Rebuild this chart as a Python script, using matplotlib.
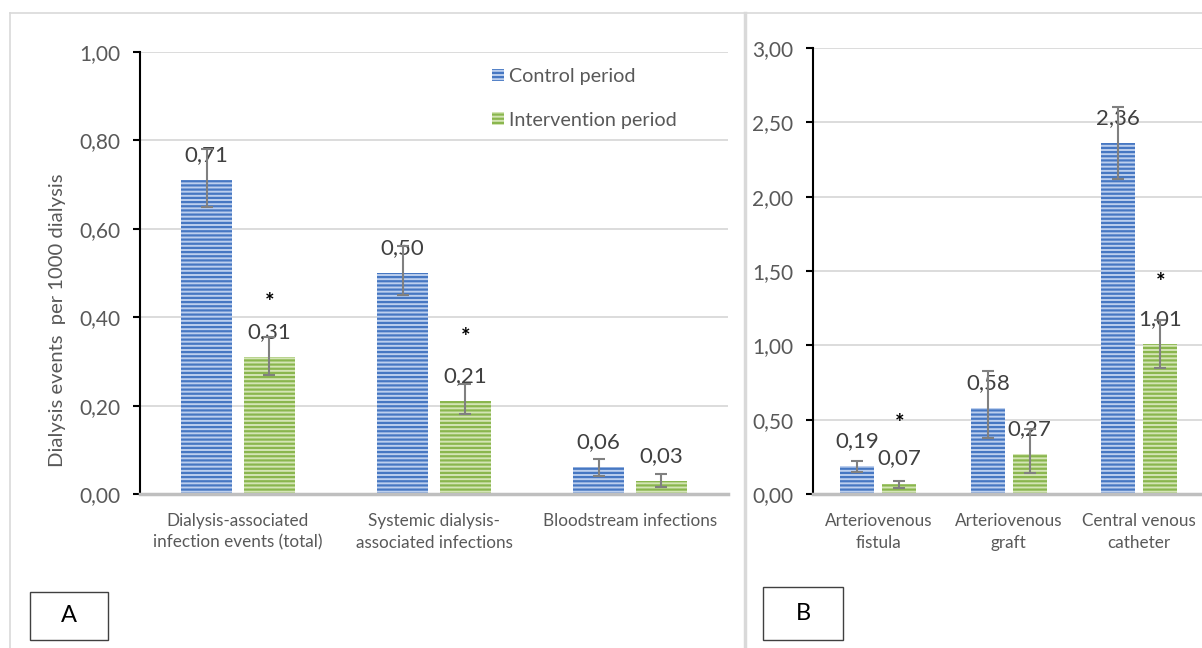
import matplotlib
matplotlib.use('Agg')
import matplotlib.pyplot as plt
from matplotlib.patches import Patch, Rectangle
from matplotlib.lines import Line2D
from matplotlib.ticker import FuncFormatter
import numpy as np

# ---------------- data ----------------
cats_a = ["Dialysis-associated\ninfection events (total)",
          "Systemic dialysis-\nassociated infections",
          "Bloodstream infections"]
ctrl_a = [0.71, 0.50, 0.06]
ctrl_a_lo = [0.65, 0.45, 0.04]
ctrl_a_hi = [0.78, 0.56, 0.08]
intv_a = [0.31, 0.21, 0.03]
intv_a_lo = [0.27, 0.18, 0.016]
intv_a_hi = [0.355, 0.25, 0.045]
star_a_idx = [0, 1]
star_a_y = [0.446, 0.367]

cats_b = ["Arteriovenous\nfistula", "Arteriovenous\ngraft", "Central venous\ncatheter"]
ctrl_b = [0.19, 0.58, 2.36]
ctrl_b_lo = [0.145, 0.375, 2.12]
ctrl_b_hi = [0.225, 0.83, 2.60]
intv_b = [0.07, 0.27, 1.01]
intv_b_lo = [0.04, 0.14, 0.85]
intv_b_hi = [0.09, 0.44, 1.17]
star_b_idx = [0, 2]
star_b_y = [0.51, 1.46]

series_labels = ["Control period", "Intervention period"]
ylabel = "Dialysis events  per 1000 dialysis"

# ---------------- style ----------------
plt.rcParams['font.family'] = ['Lato', 'DejaVu Sans']
plt.rcParams['hatch.linewidth'] = 1.6

BLUE_FACE, BLUE_HATCH = '#bccfee', '#4677c2'
GREEN_FACE, GREEN_HATCH = '#d4e5b5', '#8ab64e'
TXT = '#595959'
LBL = '#404040'

W, H = 1202, 648
fig = plt.figure(figsize=(W / 100, H / 100), dpi=100)
fig.patch.set_facecolor('white')


def fx(px):
    return px / W


def fy(py):
    return 1 - py / H


axA = fig.add_axes([fx(140), fy(494), (728 - 140) / W, (494 - 52) / H])
axB = fig.add_axes([fx(813), fy(494), (1204.5 - 813) / W, (494 - 48) / H])

comma_fmt = FuncFormatter(lambda v, p: f"{v:.2f}".replace('.', ','))


def draw_panel(ax, cats, ctrl, ctrl_lo, ctrl_hi, intv, intv_lo, intv_hi,
               ymax, step, star_idx, star_y):
    x = np.arange(len(cats))
    off, w = 0.16, 0.26
    groups = [(ctrl, ctrl_lo, ctrl_hi, -1, BLUE_FACE, BLUE_HATCH),
              (intv, intv_lo, intv_hi, 1, GREEN_FACE, GREEN_HATCH)]
    for vals, lo, hi, sign, fc, hc in groups:
        vals = np.array(vals)
        xs = x + sign * off
        ax.bar(xs, vals, w, facecolor=fc, edgecolor=hc, hatch='----',
               linewidth=0, zorder=2)
        err = [vals - np.array(lo), np.array(hi) - vals]
        for xi, v in zip(xs, vals):
            ax.annotate(f"{v:.2f}".replace('.', ','), (xi, v), xytext=(0, 18),
                        textcoords='offset points', ha='center', va='center',
                        fontsize=16, color=LBL, zorder=3)
        ax.errorbar(xs, vals, yerr=err, fmt='none', ecolor='#808080',
                    elinewidth=1.5, capsize=4, capthick=1.5, zorder=4)
    for i, sy in zip(star_idx, star_y):
        ax.annotate('*', (x[i] + off, sy), xytext=(0, -8.5),
                    textcoords='offset points', ha='center', va='baseline',
                    fontsize=16, fontweight='bold', color='black', zorder=5)

    ax.set_xlim(-0.5, len(cats) - 0.5)
    ax.set_ylim(0, ymax)
    ax.set_yticks(np.arange(0, ymax + 1e-9, step))
    ax.yaxis.set_major_formatter(comma_fmt)
    ax.set_xticks(x)
    ax.set_xticklabels(cats, linespacing=1.4)
    ax.tick_params(axis='x', length=0, pad=14, labelsize=12.3, labelcolor=TXT)
    ax.tick_params(axis='y', length=5, width=1.5, color='black', direction='out',
                   pad=9, labelsize=15, labelcolor=TXT)
    ax.yaxis.grid(True, color='#d9d9d9', lw=1.3)
    ax.set_axisbelow(True)
    ax.spines['top'].set_visible(False)
    ax.spines['right'].set_visible(False)
    ax.spines['left'].set_color('black')
    ax.spines['left'].set_linewidth(1.5)
    ax.spines['bottom'].set_color('#bfbfbf')
    ax.spines['bottom'].set_linewidth(2.5)
    ax.patch.set_alpha(0)


draw_panel(axA, cats_a, ctrl_a, ctrl_a_lo, ctrl_a_hi, intv_a, intv_a_lo, intv_a_hi,
           1.0, 0.2, star_a_idx, star_a_y)
draw_panel(axB, cats_b, ctrl_b, ctrl_b_lo, ctrl_b_hi, intv_b, intv_b_lo, intv_b_hi,
           3.0, 0.5, star_b_idx, star_b_y)

# legend
handles = [Patch(facecolor=BLUE_FACE, edgecolor=BLUE_HATCH, hatch='----', lw=0),
           Patch(facecolor=GREEN_FACE, edgecolor=GREEN_HATCH, hatch='----', lw=0)]
axA.legend(handles, series_labels, loc='upper left',
           bbox_to_anchor=(fx(492), fy(68)), bbox_transform=fig.transFigure,
           frameon=False, fontsize=14.2, handlelength=0.6, handleheight=0.6,
           handletextpad=0.25, labelspacing=1.35, borderpad=0, borderaxespad=0,
           labelcolor=TXT)

# y label
fig.text(fx(57), fy(320), ylabel, rotation=90, ha='center', va='center',
         fontsize=14.6, color=TXT)

# chart frames
fc = '#d9d9d9'
fig.add_artist(Line2D([fx(10), fx(1202)], [fy(13), fy(13)], transform=fig.transFigure,
                      color=fc, lw=1.2))
fig.add_artist(Line2D([fx(10), fx(10)], [fy(13), 0], transform=fig.transFigure,
                      color=fc, lw=1.2))
fig.add_artist(Line2D([fx(744.5), fx(744.5)], [fy(13), 0], transform=fig.transFigure,
                      color=fc, lw=2.5))

# panel letters
for lab, x0, x1, y0, y1 in [('A', 30, 108, 592, 640), ('B', 763, 843, 587, 640)]:
    fig.add_artist(Rectangle((fx(x0), fy(y1)), (x1 - x0) / W, (y1 - y0) / H,
                             transform=fig.transFigure, facecolor='white',
                             edgecolor='#404040', lw=1))
    fig.text(fx((x0 + x1) / 2), fy((y0 + y1) / 2), lab, ha='center', va='center',
             fontsize=17, color='black')

fig.savefig('out.png', dpi=100)
